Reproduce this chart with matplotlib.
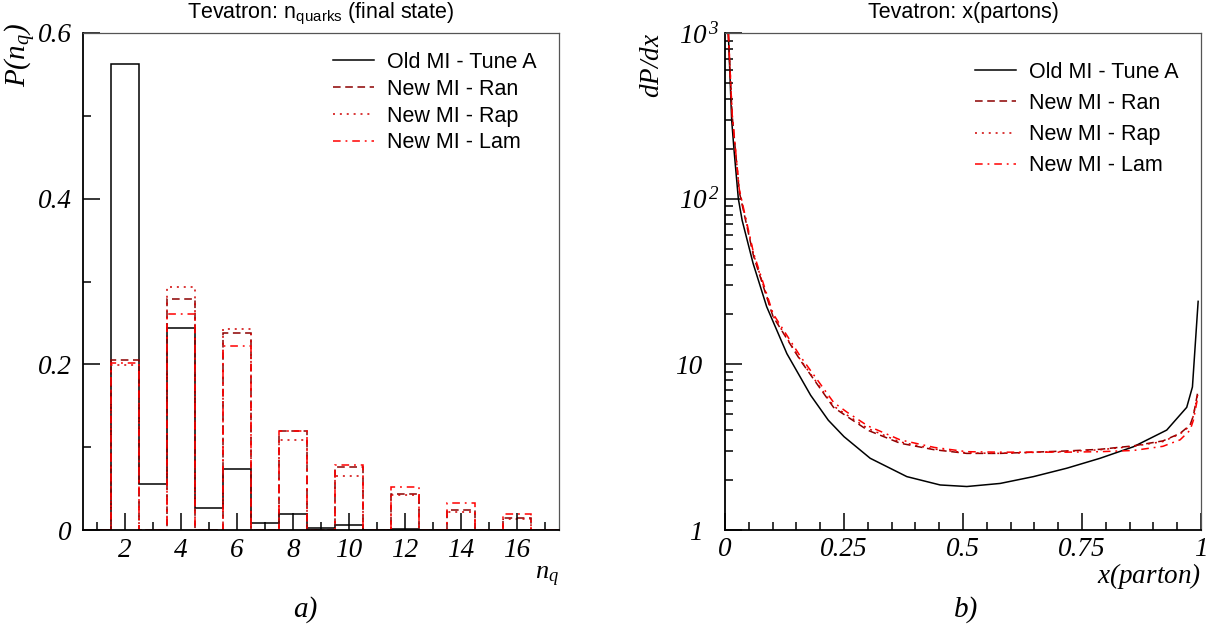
import matplotlib
matplotlib.use('Agg')
import matplotlib.pyplot as plt
from matplotlib.ticker import FixedLocator, FixedFormatter, NullFormatter
from matplotlib.transforms import ScaledTranslation

plt.rcParams['mathtext.fontset'] = 'custom'
plt.rcParams['mathtext.rm'] = 'Liberation Serif:italic'
plt.rcParams['mathtext.it'] = 'Liberation Serif:italic'
plt.rcParams['mathtext.sf'] = 'Liberation Sans'

# ---- data: left panel, P(n_q) per bin n_q = 1..17
nq = [1, 2, 3, 4, 5, 6, 7, 8, 9, 10, 11, 12, 13, 14, 15, 16, 17]
p_old = [0, 0.562, 0.0556, 0.244, 0.026, 0.074, 0.008, 0.0197, 0.002, 0.0056, 0.0005, 0.001, 0, 0, 0, 0, 0]
p_ran = [0, 0.205, 0, 0.279, 0, 0.238, 0, 0.120, 0, 0.076, 0, 0.043, 0, 0.024, 0, 0.014, 0]
p_rap = [0, 0.199, 0, 0.293, 0, 0.243, 0, 0.109, 0, 0.065, 0, 0.042, 0, 0.022, 0, 0.013, 0]
p_lam = [0, 0.202, 0, 0.261, 0, 0.222, 0, 0.120, 0, 0.079, 0, 0.052, 0, 0.032, 0, 0.019, 0]

# ---- data: right panel, dP/dx vs x(parton)
x_old = [0.007, 0.014, 0.019, 0.028, 0.036, 0.059, 0.0875, 0.13, 0.18, 0.217, 0.25, 0.305,
         0.382, 0.452, 0.508, 0.578, 0.648, 0.718, 0.788, 0.858, 0.928, 0.97, 0.982, 0.994]
y_old = [1000, 298, 196, 100, 74, 40.7, 22.3, 11.6, 6.5, 4.6, 3.66, 2.71,
         2.1, 1.87, 1.83, 1.91, 2.1, 2.36, 2.71, 3.18, 4.01, 5.5, 7.3, 24]

x_new = [0.007, 0.015, 0.03, 0.06, 0.101, 0.158, 0.228, 0.256, 0.30, 0.368, 0.44, 0.508,
         0.578, 0.648, 0.718, 0.788, 0.858, 0.92, 0.956, 0.977, 0.984, 0.994]
y_ran = [1000, 320, 110, 45, 19.4, 10.6, 5.5, 4.85, 4.0, 3.34, 3.05, 2.9,
         2.9, 2.95, 3.0, 3.07, 3.22, 3.45, 3.83, 4.3, 4.9, 7.0]
y_rap = [1000, 322, 112, 46, 19.6, 10.7, 5.6, 4.95, 4.1, 3.4, 3.08, 2.92,
         2.9, 2.94, 2.98, 3.05, 3.2, 3.42, 3.8, 4.25, 4.9, 6.8]
y_lam = [1000, 325, 114, 47, 20.2, 11.2, 5.9, 5.15, 4.25, 3.5, 3.15, 2.97,
         2.95, 2.95, 2.95, 2.97, 3.02, 3.2, 3.5, 4.0, 4.6, 6.5]

labels = ['Old MI - Tune A', 'New MI - Ran', 'New MI - Rap', 'New MI - Lam']
colors = ['black', '#8b0000', '#d00000', '#ff0000']
styles = ['-', (0, (5, 3)), (0, (1.3, 3.2)), (0, (5, 3.2, 1.2, 3.2))]

tick_font = {'family': 'Liberation Serif', 'style': 'italic', 'size': 19.5}
sans = 'Liberation Sans'

fig = plt.figure(figsize=(12.13, 6.29), dpi=100)
ax1 = fig.add_axes([83/1213, 1-530/629, 476/1213, 497/629])
ax2 = fig.add_axes([725/1213, 1-530/629, 476/1213, 497/629])


def style_frame(ax):
    for s in ['left', 'bottom']:
        ax.spines[s].set_linewidth(1.3)
        ax.spines[s].set_color('black')
    for s in ['top', 'right']:
        ax.spines[s].set_linewidth(0.9)
        ax.spines[s].set_color('#555555')
    ax.tick_params(which='both', direction='in', top=False, right=False, width=1.1, color='black')
    ax.tick_params(which='major', length=12)
    ax.tick_params(which='minor', length=6)
    for lab in ax.get_xticklabels() + ax.get_yticklabels():
        lab.set_fontproperties(tick_font)


# ---- left: histograms
edges = [n - 0.5 for n in nq] + [nq[-1] + 0.5]
for vals, lab, c, ls in zip([p_old, p_ran, p_rap, p_lam], labels, colors, styles):
    ax1.stairs(vals, edges, color=c, linestyle=ls, linewidth=1.1, label=lab)

ax1.set_xlim(0.5, 17.5)
ax1.set_ylim(0, 0.6)
ax1.xaxis.set_major_locator(FixedLocator([2, 4, 6, 8, 10, 12, 14, 16]))
ax1.xaxis.set_major_formatter(FixedFormatter(['2', '4', '6', '8', '10', '12', '14', '16']))
ax1.xaxis.set_minor_locator(FixedLocator([1, 3, 5, 7, 9, 11, 13, 15, 17]))
ax1.yaxis.set_major_locator(FixedLocator([0, 0.2, 0.4, 0.6]))
ax1.yaxis.set_major_formatter(FixedFormatter(['0', '0.2', '0.4', '0.6']))
ax1.yaxis.set_minor_locator(FixedLocator([0.1, 0.3, 0.5]))
ax1.tick_params(axis='x', pad=6)
ax1.tick_params(axis='y', pad=8)
style_frame(ax1)

ax1.set_title('Tevatron: n$_{\\mathsf{quarks}}$ (final state)', family=sans, fontsize=15.5, pad=11)
ax1.set_ylabel('$P(n_{q})$', fontsize=21, loc='top')
ax1.yaxis.set_label_coords(-0.094, 1.02)
ax1.set_xlabel('$n_{q}$', fontsize=19, loc='right')
ax1.xaxis.set_label_coords(1.0, -0.066)

leg1 = ax1.legend(loc='upper left', bbox_to_anchor=(0.525, 0.962), frameon=False,
                  borderpad=0, borderaxespad=0, handlelength=1.9, handletextpad=0.6,
                  labelspacing=0.27, prop={'family': sans, 'size': 15.5})

# ---- right: x(parton)
for xs, ys, lab, c, ls in zip([x_old, x_new, x_new, x_new], [y_old, y_ran, y_rap, y_lam],
                              labels, colors, styles):
    ax2.plot(xs, ys, color=c, linestyle=ls, linewidth=1.1, label=lab)

ax2.set_yscale('log')
ax2.set_xlim(0, 1)
ax2.set_ylim(1, 1000)
ax2.xaxis.set_major_locator(FixedLocator([0, 0.25, 0.5, 0.75, 1]))
ax2.xaxis.set_major_formatter(FixedFormatter(['0', '0.25', '0.5', '0.75', '1']))
ax2.xaxis.set_minor_locator(FixedLocator([i * 0.05 for i in range(21)]))
ax2.yaxis.set_major_locator(FixedLocator([1, 10, 100, 1000]))
ax2.yaxis.set_major_formatter(FixedFormatter(['1', '10', '$10^{\\,2}$', '$10^{\\,3}$']))
ax2.yaxis.set_minor_locator(FixedLocator([m * 10 ** k for k in range(3) for m in range(2, 10)]))
ax2.yaxis.set_minor_formatter(NullFormatter())
ax2.tick_params(axis='x', pad=5)
ax2.tick_params(axis='y', pad=4)
style_frame(ax2)
shift = ScaledTranslation(-0.17, 0, fig.dpi_scale_trans)
ticks = ax2.yaxis.get_major_ticks()
for t in ticks[:2]:
    t.label1.set_transform(t.label1.get_transform() + shift)

ax2.set_title('Tevatron: x(partons)', family=sans, fontsize=15.5, pad=11)
ax2.set_ylabel('$dP/dx$', fontsize=19.5, loc='top')
ax2.yaxis.set_label_coords(-0.126, 1.0)
ax2.set_xlabel('$x(parton)$', fontsize=19.5, loc='right')
ax2.xaxis.set_label_coords(1.0, -0.062)

leg2 = ax2.legend(loc='upper left', bbox_to_anchor=(0.525, 0.942), frameon=False,
                  borderpad=0, borderaxespad=0, handlelength=1.9, handletextpad=0.6,
                  labelspacing=0.47, prop={'family': sans, 'size': 15.5})

fig.text(305/1213, 1-610/629, 'a)', family='Liberation Serif', style='italic', fontsize=21,
         ha='center', va='center')
fig.text(966/1213, 1-610/629, 'b)', family='Liberation Serif', style='italic', fontsize=21,
         ha='center', va='center')

fig.savefig('out.png', dpi=100)
